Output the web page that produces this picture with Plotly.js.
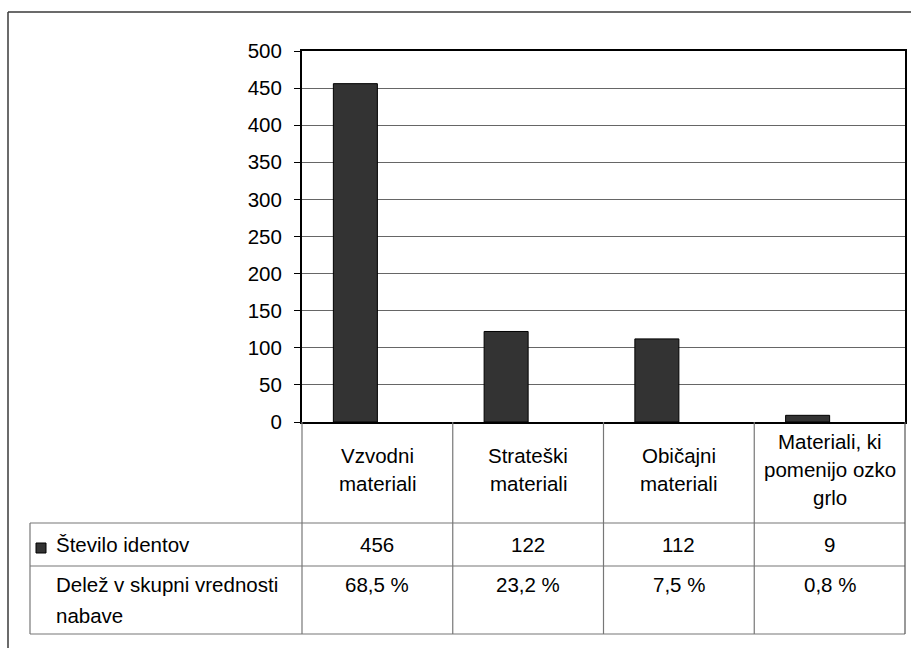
<!DOCTYPE html>
<html>
<head>
<meta charset="utf-8">
<script src="https://cdn.plot.ly/plotly-3.0.1.min.js"></script>
<style>
  html, body { margin: 0; padding: 0; background: #fff; }
  #chart { width: 911px; height: 648px; }
</style>
</head>
<body>
<div id="chart"></div>
<script>
// ---- Data ----
const categories = ["Vzvodni<br>materiali", "Strateški<br>materiali", "Običajni<br>materiali", "Materiali, ki<br>pomenijo ozko<br>grlo"];
const countName = "Število identov";
const countValues = [456, 122, 112, 9];
const shareName = "Delež v skupni vrednosti<br>nabave";
const shareValues = [68.5, 23.2, 7.5, 0.8];
const shareLabels = ["68,5 %", "23,2 %", "7,5 %", "0,8 %"];
const yTicks = [0, 50, 100, 150, 200, 250, 300, 350, 400, 450, 500];

// ---- Layout geometry (pixels) ----
const FIG_W = 911, FIG_H = 648;
const L = 302, R = 905, T = 51, B = 422;
const W = R - L, H = B - T;
const px = x => (x - L) / W;
const py = y => (B - y) / H;

const FONT = {family: "Liberation Sans, Arial, sans-serif", size: 20.5, color: "#000"};
const GRID = "#666666";
const TBL = "#777777";

const rowHeaderBottom = 523;
const row1Bottom = 566;
const row2Bottom = 634;
const tableLeft = 30;
const colW = W / categories.length;

const shapes = [];
function line(x0, y0, x1, y1, color, width) {
  shapes.push({type: "line", xref: "paper", yref: "paper",
    x0: px(x0), y0: py(y0), x1: px(x1), y1: py(y1),
    line: {color: color, width: width}});
}
// outer chart border (cropped)
line(8, 12, FIG_W + 5, 12, "#3a3a3a", 1.5);
line(8, 12, 8, FIG_H + 5, "#3a3a3a", 1.5);
// data table horizontal lines
[rowHeaderBottom, row1Bottom, row2Bottom].forEach(y => line(tableLeft, y, R, y, TBL, 1.2));
// data table vertical lines
line(tableLeft, rowHeaderBottom, tableLeft, row2Bottom, TBL, 1.2);
for (let i = 0; i <= categories.length; i++) {
  const x = L + colW * i;
  line(x, B, x, row2Bottom, i === categories.length ? "#555" : TBL, 1.2);
}
// legend key square
shapes.push({type: "rect", xref: "paper", yref: "paper",
  x0: px(36), x1: px(46), y0: py(553), y1: py(543),
  fillcolor: "#333333", line: {color: "#000", width: 1}});

const annotations = [];
// multi-line text with controlled line height, first line centred at firstY (pixels)
function textBlock(text, xref, x, firstY, lineH, xanchor) {
  text.split("<br>").forEach((ln, k) => {
    annotations.push({xref: xref, yref: "paper", x: x, y: py(firstY + k * lineH),
      text: ln, showarrow: false, xanchor: xanchor, yanchor: "middle", font: FONT});
  });
}
const HEADER_LH = 28;
const headerCenter = (B + rowHeaderBottom) / 2 - 3;
const row1Y = (rowHeaderBottom + row1Bottom) / 2;
const row2FirstY = 584;
categories.forEach((c, i) => {
  const n = c.split("<br>").length;
  textBlock(c, "x", c, headerCenter - (n - 1) * HEADER_LH / 2, HEADER_LH, "center");
  textBlock(String(countValues[i]), "x", c, row1Y, 0, "center");
  textBlock(shareLabels[i], "x", c, row2FirstY, 0, "center");
});
textBlock(countName, "paper", px(54), row1Y, 0, "left");
textBlock(shareName, "paper", px(54), row2FirstY, 31, "left");

const traces = [
  {type: "bar", name: countName, x: categories, y: countValues,
   marker: {color: "#333333", line: {color: "#000", width: 1}},
   hoverinfo: "skip"},
  {type: "bar", name: shareName, x: categories, y: shareValues.map(v => v / 100),
   marker: {color: "rgba(0,0,0,0)", line: {width: 0}},
   hoverinfo: "skip"}
];

const layout = {
  width: FIG_W, height: FIG_H,
  margin: {l: L, r: FIG_W - R, t: T, b: FIG_H - B, pad: 0},
  paper_bgcolor: "#fff", plot_bgcolor: "#fff",
  showlegend: false,
  barmode: "group", bargap: 0.416, bargroupgap: 0,
  font: FONT,
  xaxis: {type: "category", showticklabels: false, ticks: "",
    showline: true, linecolor: "#000", linewidth: 2, mirror: true,
    showgrid: false, zeroline: false, fixedrange: true},
  yaxis: {range: [0, 500], tickvals: yTicks, ticktext: yTicks.map(String),
    ticks: "outside", ticklen: 6, tickcolor: "#000", tickwidth: 1,
    ticklabelstandoff: 8,
    showline: true, linecolor: "#000", linewidth: 2, mirror: true,
    showgrid: true, gridcolor: GRID, gridwidth: 1, zeroline: false,
    tickfont: FONT, fixedrange: true},
  shapes: shapes,
  annotations: annotations
};

Plotly.newPlot("chart", traces, layout, {staticPlot: true, displayModeBar: false});
</script>
</body>
</html>
